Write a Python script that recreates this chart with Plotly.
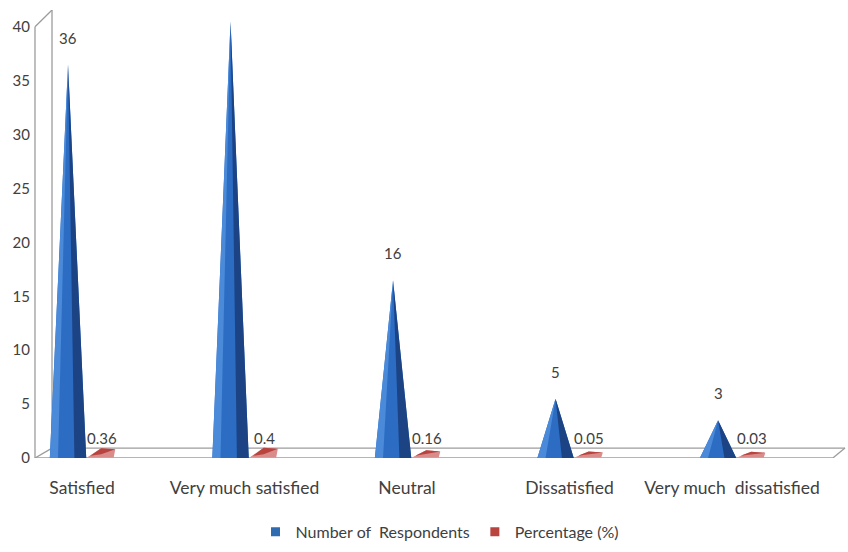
import plotly.graph_objects as go

# Survey results
categories = ["Satisfied", "Very much satisfied", "Neutral", "Dissatisfied", "Very much  dissatisfied"]
respondents = [36, 40, 16, 5, 3]
percentage = [0.36, 0.4, 0.16, 0.05, 0.03]

series_names = ["Number of  Respondents", "Percentage (%)"]

# ---- geometry of the pseudo-3D cone layout (category units / y units) ----
CONE_OFF = -0.086     # cone centre relative to the category slot
CONE_HW = 0.112       # cone half base width
RED_L, RED_R = 0.031, 0.205   # flat red wedge extent
LIFT = 0.5            # depth lift of the apex (mid-depth of the 3D floor)
X_RANGE = [-0.2892, 4.695]
Y_RANGE = [0, 41.56]
LABEL_GAP = 27        # px between apex and its value label

BLUE = "#2c6cc3"
BLUE_DARK = "#1c4384"
BLUE_LIGHT = "#4a8ad9"
RED = "#b8433f"
TXT = "#404040"
FONT = "Lato"


def polys(points_per_item):
    xs, ys = [], []
    for pts in points_per_item:
        for (x, y) in pts:
            xs.append(x)
            ys.append(y)
        xs.append(pts[0][0])
        ys.append(pts[0][1])
        xs.append(None)
        ys.append(None)
    return xs, ys


fig = go.Figure()

# blue cones: main body, lit left flank, shaded right flank
main, light, dark = [], [], []
for i, v in enumerate(respondents):
    c = i + CONE_OFF
    top = v + LIFT
    main.append([(c - CONE_HW, 0), (c, top), (c + CONE_HW, 0)])
    light.append([(c - CONE_HW, 0), (c, top), (c - 0.55 * CONE_HW, 0)])
    dark.append([(c + 0.35 * CONE_HW, 0), (c, top), (c + CONE_HW, 0)])

for pts, col in [(main, BLUE), (light, BLUE_LIGHT), (dark, BLUE_DARK)]:
    xs, ys = polys(pts)
    fig.add_trace(go.Scatter(x=xs, y=ys, fill="toself", fillcolor=col, mode="lines",
                             line=dict(width=0, color=col), hoverinfo="skip", showlegend=False))

# red flat wedges for the percentage series
red_main, red_top = [], []
for i, v in enumerate(percentage):
    xl, xr = i + RED_L, i + RED_R
    xm = (xl + xr) / 2
    red_main.append([(xl, 0.05), (xm, 0.05 + LIFT + v), (xr, 0.45 + v), (xr - 0.01, 0.05)])
    red_top.append([(xl + 0.02, 0.2), (xm, 0.05 + LIFT + v), (xr, 0.45 + v), (xm, 0.35)])
for pts, col in [(red_main, "#d98c8a"), (red_top, RED)]:
    xs, ys = polys(pts)
    fig.add_trace(go.Scatter(x=xs, y=ys, fill="toself", fillcolor=col, mode="lines",
                             line=dict(width=0, color=col), hoverinfo="skip", showlegend=False))

# legend entries
fig.add_trace(go.Scatter(x=[None], y=[None], mode="markers", name=series_names[0],
                         marker=dict(symbol="square", size=9, color="#2e6bb0")))
fig.add_trace(go.Scatter(x=[None], y=[None], mode="markers", name=series_names[1],
                         marker=dict(symbol="square", size=9, color=RED)))

# value labels (a label that would rise above the chart area is left out)
px_per_unit = 452 / Y_RANGE[1]
for i, v in enumerate(respondents):
    if v + LIFT + (LABEL_GAP + 8) / px_per_unit > Y_RANGE[1]:
        continue
    fig.add_annotation(x=i + CONE_OFF, y=v + LIFT, text=str(v), showarrow=False,
                       yshift=LABEL_GAP, font=dict(family=FONT, size=15, color=TXT))
for i, v in enumerate(percentage):
    fig.add_annotation(x=i + 0.12, y=0, text=f"{v:g}", showarrow=False, yshift=20,
                       font=dict(family=FONT, size=15, color=TXT))

# 3D frame: wall edges and floor
line = dict(color="#9c9c9c", width=1.3)
BX = 0.021   # back-wall offset in paper units
BY = 0.92    # back floor height in y units
frame = [
    dict(xref="paper", yref="y", x0=0, y0=0, x1=0, y1=40),
    dict(xref="paper", yref="y", x0=0, y0=40, x1=BX, y1=Y_RANGE[1]),
    dict(xref="paper", yref="y", x0=BX, y0=Y_RANGE[1], x1=BX, y1=BY),
    dict(xref="paper", yref="y", x0=0, y0=0, x1=BX, y1=BY),
    dict(xref="paper", yref="y", x0=0, y0=0, x1=0.985, y1=0),
    dict(xref="paper", yref="y", x0=BX, y0=BY, x1=1.0, y1=BY),
    dict(xref="paper", yref="y", x0=0.985, y0=0, x1=1.0, y1=BY),
]
for s in frame:
    fig.add_shape(type="line", layer="below", line=line, **s)

fig.update_layout(
    width=848, height=552,
    margin=dict(l=35, r=3, t=10, b=90),
    paper_bgcolor="white", plot_bgcolor="white",
    font=dict(family=FONT, size=15, color=TXT),
    xaxis=dict(range=X_RANGE, showgrid=False, zeroline=False, showline=False,
               automargin=False,
               tickvals=list(range(len(categories))),
               ticktext=categories, ticks="", ticklabelstandoff=17,
               tickfont=dict(family=FONT, size=17.5, color=TXT)),
    yaxis=dict(range=Y_RANGE, showgrid=False, zeroline=False, showline=False,
               automargin=False,
               tickvals=[0, 5, 10, 15, 20, 25, 30, 35, 40], ticks="",
               ticklabelstandoff=4, tickfont=dict(family=FONT, size=15, color=TXT)),
    legend=dict(orientation="h", x=0.50, xanchor="center", y=-0.165, yanchor="middle",
                font=dict(family=FONT, size=16, color=TXT), itemwidth=30,
                tracegroupgap=0),
    showlegend=True,
)

fig.write_html("out.html")
